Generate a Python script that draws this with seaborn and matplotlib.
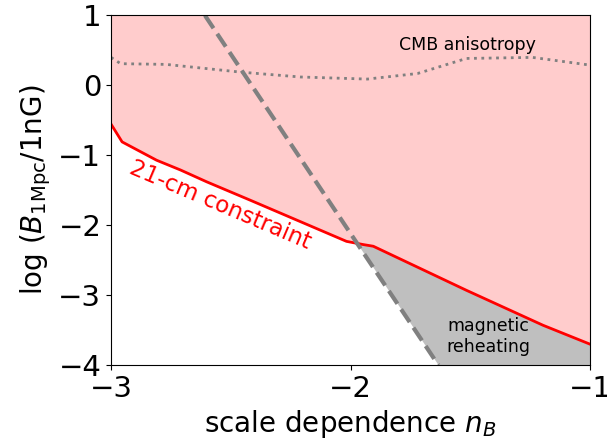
import numpy as np
import pandas as pd
import matplotlib
matplotlib.use('Agg')
import matplotlib.pyplot as plt
import seaborn as sns

# 21-cm constraint (red boundary)
red_nB = [-3.0, -2.954, -2.81, -2.71, -2.60, -2.42, -2.017, -1.947, -1.905, -1.516, -1.196, -1.0]
red_logB = [-0.555, -0.808, -1.07, -1.21, -1.38, -1.64, -2.23, -2.276, -2.30, -2.93, -3.43, -3.70]

# magnetic reheating boundary (dashed)
dash_nB = [-2.608, -1.633]
dash_logB = [1.0, -4.0]

# CMB anisotropy (dotted)
cmb_nB = [-3.0, -2.96, -2.77, -2.46, -2.21, -1.93, -1.72, -1.516, -1.24, -1.0]
cmb_logB = [0.40, 0.31, 0.30, 0.19, 0.12, 0.09, 0.17, 0.385, 0.40, 0.29]

red_df = pd.DataFrame({'nB': red_nB, 'logB': red_logB})
dash_df = pd.DataFrame({'nB': dash_nB, 'logB': dash_logB})
cmb_df = pd.DataFrame({'nB': cmb_nB, 'logB': cmb_logB})

fig = plt.figure(figsize=(6.07, 4.41), dpi=100)
ax = fig.add_axes([0.183, 0.172, 0.789, 0.793])

# excluded by 21-cm
ax.fill_between(red_df['nB'], red_df['logB'], 1, color='red', alpha=0.2, linewidth=0)

# magnetic reheating region: below red line, right of dashed line
xs = np.union1d(red_nB, dash_nB)
top = np.interp(xs, red_nB, red_logB)
low = np.maximum(np.interp(xs, dash_nB, dash_logB, left=5, right=-4), -4)
ax.fill_between(xs, low, top, where=low < top, interpolate=True,
                color='gray', alpha=0.5, linewidth=0)

sns.lineplot(data=red_df, x='nB', y='logB', color='red', linewidth=2, ax=ax, sort=False)
sns.lineplot(data=dash_df, x='nB', y='logB', color='gray', linewidth=3, linestyle='--', ax=ax)
sns.lineplot(data=cmb_df, x='nB', y='logB', color='gray', linewidth=2, linestyle=':', ax=ax)

ax.text(-1.51, 0.575, 'CMB anisotropy', fontsize=12.5, ha='center', va='center')
ax.text(-1.425, -3.585, 'magnetic\nreheating', fontsize=12.5, ha='center', va='center')
ax.text(-2.545, -1.714, '21-cm constraint', fontsize=16.5, color='red',
        rotation=-23, ha='center', va='center', rotation_mode='anchor')

ax.set_xlim(-3, -1)
ax.set_ylim(-4, 1)
ax.set_xticks([-3, -2, -1])
ax.set_yticks([-4, -3, -2, -1, 0, 1])
ax.tick_params(labelsize=21)
ax.set_xlabel(r'scale dependence $n_B$', fontsize=20)
ax.set_ylabel(r'log $(B_{\rm 1Mpc}/{\rm 1nG})$', fontsize=20)

fig.savefig('out.png', dpi=100)
